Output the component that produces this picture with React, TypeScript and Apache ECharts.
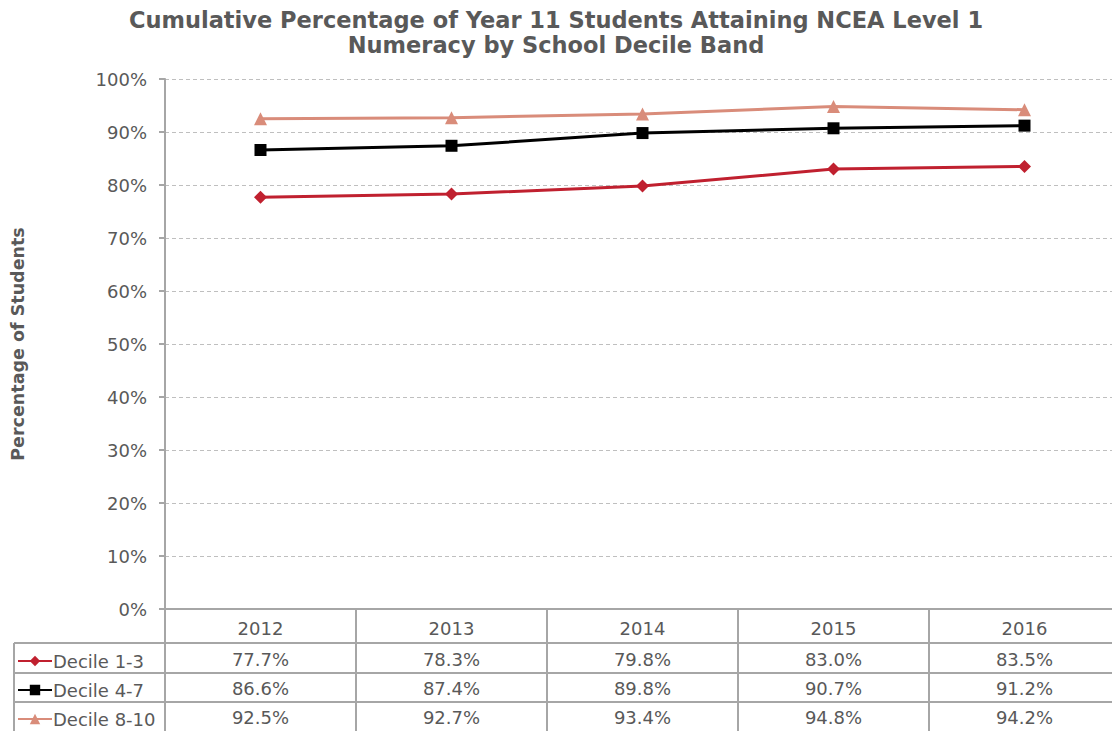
import React, { useEffect, useRef } from "react";
import * as echarts from "echarts";

const years = ["2012", "2013", "2014", "2015", "2016"];
const decile13 = [77.7, 78.3, 79.8, 83.0, 83.5];
const decile47 = [86.6, 87.4, 89.8, 90.7, 91.2];
const decile810 = [92.5, 92.7, 93.4, 94.8, 94.2];
const seriesNames = ["Decile 1-3", "Decile 4-7", "Decile 8-10"];

const FONT = "'DejaVu Sans', Verdana, sans-serif";
const TXT = "#595959";
const LINEC = "#a6a6a6";
// the chart canvas is widened by SHIFT px on each side so the last table column can run past the window edge
const SHIFT = 12;

export default function App() {
  const ref = useRef<HTMLDivElement>(null);
  useEffect(() => {
    if (!ref.current) return;
    const chart = echarts.init(ref.current, null, { renderer: "svg" });
    const gridTop = 79;
    const gridBottom = 609;
    const gridLeft = 165 + SHIFT;
    const gridWidth = 955;
    const rowLines = [643, 673, 702];
    const rowCenters = [660, 689, 718];
    const tableRows = [decile13, decile47, decile810];
    const rowMargins = [41, 70, 99];

    const valueAxes = tableRows.map((vals, i) => ({
      type: "category" as const,
      data: years,
      gridIndex: 0,
      position: "bottom" as const,
      boundaryGap: true,
      axisLine: { show: false },
      axisTick: { show: false },
      axisLabel: {
        margin: rowMargins[i],
        color: TXT,
        fontSize: 18,
        fontFamily: FONT,
        formatter: (_v: string, idx: number) => vals[idx].toFixed(1) + "%",
      },
    }));

    const legends = seriesNames.map((name, i) => ({
      orient: "vertical",
      left: 12 + SHIFT,
      top: rowCenters[i] - 13,
      itemWidth: 34,
      itemHeight: 13,
      data: [name],
      textStyle: {
        color: TXT,
        fontSize: 18,
        fontFamily: FONT,
        padding: [0, 0, 0, -4],
      },
    }));

    chart.setOption({
      animation: false,
      backgroundColor: "#ffffff",
      title: {
        text: "Cumulative Percentage of Year 11 Students Attaining NCEA Level 1\nNumeracy by School Decile Band",
        left: "center",
        top: 2,
        textStyle: {
          fontFamily: FONT,
          fontWeight: "bold",
          fontSize: 22.5,
          lineHeight: 25,
          color: TXT,
        },
      },
      legend: legends,
      grid: {
        left: gridLeft,
        top: gridTop,
        width: gridWidth,
        height: gridBottom - gridTop,
        containLabel: false,
      },
      xAxis: [
        {
          type: "category",
          data: years,
          boundaryGap: true,
          axisLine: { show: true, lineStyle: { color: LINEC, width: 2 } },
          axisTick: {
            show: true,
            inside: false,
            length: 125,
            alignWithLabel: false,
            lineStyle: { color: LINEC, width: 2 },
          },
          axisLabel: { margin: 10, color: TXT, fontSize: 18, fontFamily: FONT },
          splitLine: { show: false },
        },
        ...valueAxes,
      ],
      yAxis: {
        type: "value",
        min: 0,
        max: 100,
        interval: 10,
        name: "Percentage of Students",
        nameLocation: "middle",
        nameGap: 138,
        nameTextStyle: { color: TXT, fontSize: 17.5, fontWeight: "bold", fontFamily: FONT },
        axisLine: { show: true, lineStyle: { color: LINEC, width: 2 } },
        axisTick: { show: true, length: 6, lineStyle: { color: LINEC, width: 2 } },
        axisLabel: {
          formatter: "{value}%",
          color: TXT,
          fontSize: 18,
          fontFamily: FONT,
          margin: 18,
        },
        splitLine: { show: true, lineStyle: { color: "#bfbfbf", type: [4, 3], width: 1 } },
      },
      series: [
        {
          name: seriesNames[0],
          type: "line",
          data: decile13,
          symbol: "diamond",
          symbolSize: 13,
          color: "#c0202f",
          lineStyle: { width: 3 },
        },
        {
          name: seriesNames[1],
          type: "line",
          data: decile47,
          symbol: "rect",
          symbolSize: 12,
          color: "#000000",
          lineStyle: { width: 3 },
        },
        {
          name: seriesNames[2],
          type: "line",
          data: decile810,
          symbol: "triangle",
          symbolSize: 13,
          color: "#d98c7a",
          lineStyle: { width: 3 },
        },
      ],
      graphic: [
        ...rowLines.map((y) => ({
          type: "line",
          shape: { x1: 14 + SHIFT, y1: y, x2: 1112 + 2 * SHIFT, y2: y },
          style: { stroke: LINEC, lineWidth: 2 },
          silent: true,
        })),
        {
          type: "line",
          shape: { x1: 14 + SHIFT, y1: rowLines[0], x2: 14 + SHIFT, y2: 731 },
          style: { stroke: LINEC, lineWidth: 2 },
          silent: true,
        },
      ],
    });
    return () => chart.dispose();
  }, []);
  return (
    <div
      style={{
        position: "fixed",
        left: 0,
        top: 0,
        width: 1112,
        height: 731,
        overflow: "hidden",
        background: "#ffffff",
      }}
    >
      <div
        ref={ref}
        style={{
          position: "absolute",
          left: -SHIFT,
          top: 0,
          width: 1112 + 2 * SHIFT,
          height: 731,
        }}
      />
    </div>
  );
}
